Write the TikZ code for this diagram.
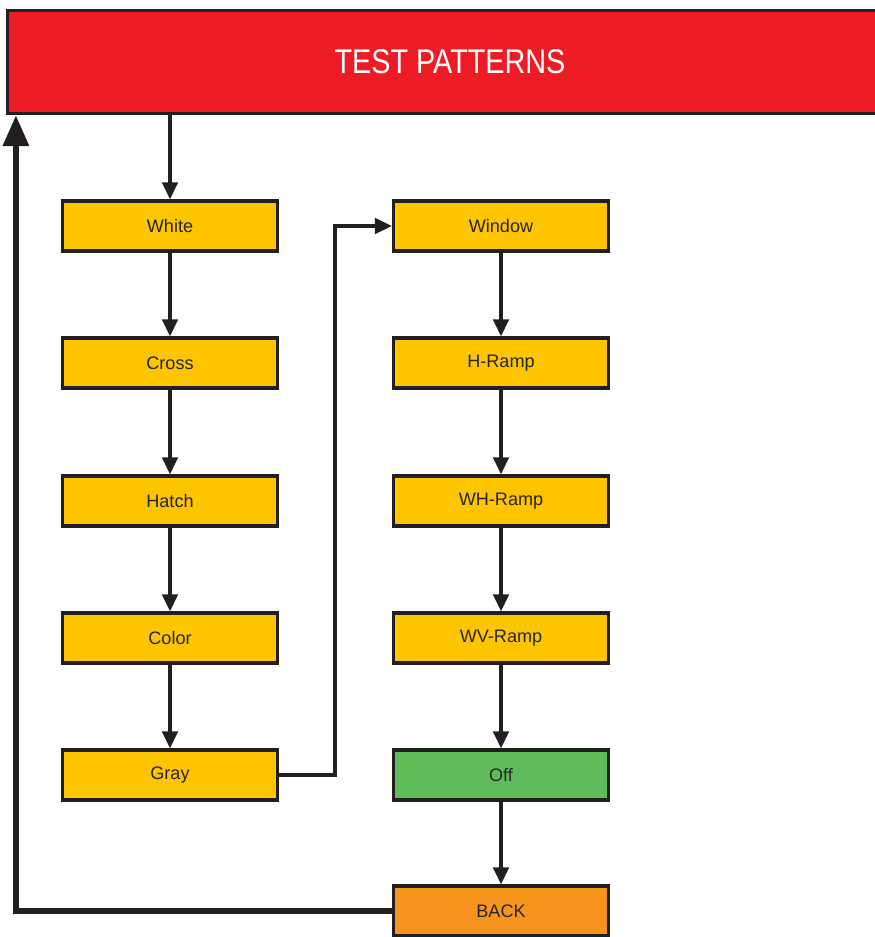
\documentclass[tikz,border=0pt]{standalone}
\usepackage{fontspec}
\setmainfont{Liberation Sans}
\newfontfamily\hdrfont[FakeStretch=0.84]{Liberation Sans}
\usetikzlibrary{positioning,arrows.meta}
\definecolor{hdrred}{RGB}{237,28,36}
\definecolor{patyellow}{RGB}{253,196,0}
\definecolor{offgreen}{RGB}{96,187,90}
\definecolor{backorange}{RGB}{247,148,29}
\definecolor{linegray}{RGB}{35,31,32}

\begin{document}
\begin{tikzpicture}[
  x=0.02cm,y=-0.02cm,
  every node/.style={font=\fontsize{10.3}{12}\selectfont},
  box/.style={draw=linegray,line width=1.9pt,fill=patyellow,minimum width=4.3cm,minimum height=1.0cm,inner sep=0pt,text=black!85},
  arr/.style={-{Triangle[length=0.34cm,width=0.31cm]},line width=2pt,draw=linegray},
  backarr/.style={-{Triangle[length=0.62cm,width=0.5cm]},line width=3.6pt,draw=linegray}
]
  \useasboundingbox (0,0) rectangle (875,937);
  \node[draw=linegray,line width=1.9pt,fill=hdrred,minimum width=17.7cm,minimum height=2.06cm,inner sep=0pt,
        text=white,font=\hdrfont\fontsize{19.5}{22}\selectfont] (hdr) at (450,62) {TEST PATTERNS};

  % left column
  \node[box] (white) at (170,226) {White};
  \node[box] (cross) at (170,363) {Cross};
  \node[box] (hatch) at (170,501) {Hatch};
  \node[box] (color) at (170,638) {Color};
  \node[box] (gray)  at (170,775) {Gray};

  % right column
  \node[box] (window) at (501,226) {Window};
  \node[box] (hramp)  at (501,363) {H-Ramp};
  \node[box] (whramp) at (501,501) {WH-Ramp};
  \node[box] (wvramp) at (501,638) {WV-Ramp};
  \node[box,fill=offgreen] (off) at (501,775) {Off};
  \node[box,fill=backorange] (back) at (501,911) {BACK};

  \draw[arr] (hdr.south -| white.north) -- (white);
  \draw[arr] (white) -- (cross);
  \draw[arr] (cross) -- (hatch);
  \draw[arr] (hatch) -- (color);
  \draw[arr] (color) -- (gray);
  \draw[arr] (gray.east) -- ++(56,0) |- (window.west);
  \draw[arr] (window) -- (hramp);
  \draw[arr] (hramp) -- (whramp);
  \draw[arr] (whramp) -- (wvramp);
  \draw[arr] (wvramp) -- (off);
  \draw[arr] (off) -- (back);
  \draw[backarr] (back.west) -| ([xshift=0.2cm]hdr.south west);
\end{tikzpicture}
\end{document}
